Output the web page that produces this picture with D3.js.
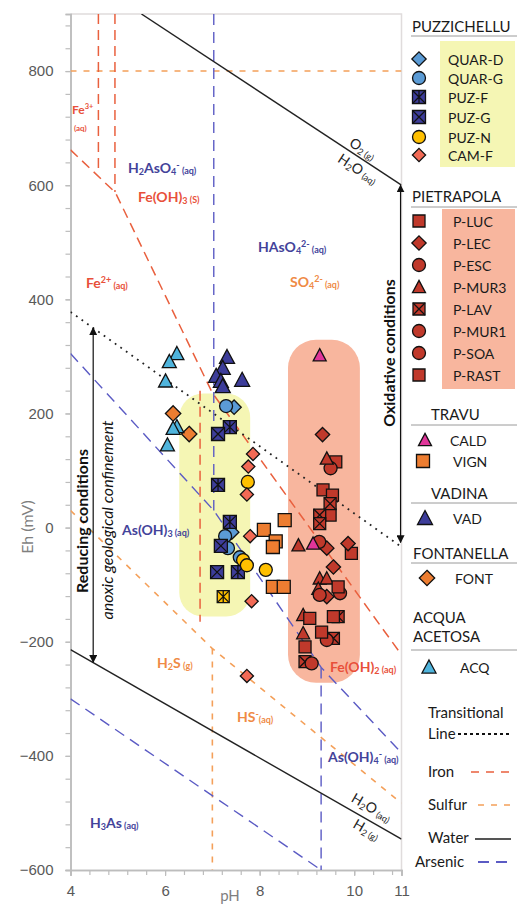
<!DOCTYPE html>
<html><head><meta charset="utf-8">
<script src="https://cdn.jsdelivr.net/npm/d3@7"></script>
<style>
body{margin:0;background:#fff;}
svg{display:block;font-family:Lato,"Open Sans",sans-serif;}
</style></head><body>
<svg id="chart" width="518" height="906"></svg>
<script>
// ================= DATA =================
const xTickLabels = [4, 6, 8, 10, 11];
const yTickLabels = [-600, -400, -200, 0, 200, 400, 600, 800];

// boundary lines [pH, Eh mV]
const waterUpper = [[5.5, 900], [11, 600]];
const waterLower = [[4, -214], [11, -546]];
const transitional = [[4, 378], [11, -34]];
const ironDiag = [[4, 662], [4.95, 587], [7.0, 236], [11, -223]];
const ironVert1 = [[4.59, 900], [4.59, 625]];
const ironVert2 = [[4.94, 900], [4.94, 588]];
const ironVert3 = [[6.74, 240], [6.74, -165]];
const sulfurHoriz = [[4, 800], [11, 800]];
const sulfurDiag = [[4, 30], [7.0, -212], [11, -483]];
const sulfurVert = [[7.0, -212], [7.0, -600]];
const arsenicDiag = [[4, 305], [7.03, 30], [9.3, -245], [11, -395]];
const arsenicVert1 = [[7.03, 900], [7.03, 30]];
const arsenicVert2 = [[9.3, -245], [9.3, -600]];
const arsenicLow = [[4, -300], [9.3, -600]];

// shaded groups [pH range], [Eh range]
const yellowBandPH = [6.30, 7.80], yellowBandEh = [-156, 235];
const pinkBandPH = [8.60, 10.12], pinkBandEh = [-272, 329];

// samples [pH, Eh]
const quarD = [[7.46, 211], [7.41, -8]];
const quarG = [[7.29, 213], [7.27, -15], [7.33, -36], [7.58, -52]];
const puzF = [[7.37, 176], [7.12, 75], [7.37, 10], [7.54, -78]];
const puzG = [[7.12, 164], [7.18, -32], [7.10, -78]];
const puzN = [[7.75, 80], [7.65, -57], [7.73, -66], [8.13, -74]];
const puzNX = [[7.23, -121]];
const camF = [[7.86, 129], [7.76, 107], [7.73, 58], [7.80, -15], [7.83, -129], [7.73, -260]];
const pLuc = [[9.61, 115], [9.34, 66], [9.54, 57], [9.49, 22], [9.94, -45]];
const pLec = [[9.33, 163], [9.42, -36], [9.87, -28], [9.56, -69], [9.42, -121]];
const pEsc = [[9.50, 104], [9.26, -25]];
const pMur3 = [[9.42, 121], [8.82, -31], [9.27, -89], [9.42, -89], [9.24, -107], [8.92, -153], [8.92, -185]];
const pLav = [[9.49, 42], [9.27, 22], [9.27, 7], [9.66, -156], [9.56, -194], [8.96, -235]];
const pMur1 = [[9.70, -115], [9.27, -118]];
const pSoa = [[9.42, -197], [9.10, -238]];
const pRast = [[9.66, -104], [9.06, -159], [9.56, -156], [9.31, -183], [8.96, -209]];
const cald = [[9.27, 302], [9.13, -28]];
const vign = [[8.09, -4], [8.53, 13], [8.34, -24], [8.28, -34], [8.28, -104], [8.51, -104]];
const vad = [[7.31, 299], [7.22, 280], [7.08, 266], [7.18, 257], [7.22, 248], [7.63, 259]];
const font = [[6.17, 200], [6.51, 164]];
const acq = [[6.25, 305], [6.09, 291], [6.01, 257], [6.25, 177], [6.17, 174], [6.05, 145]];

// ================= CHART =================
const C = {
  lblue: "#5b9bd5", dblue: "#3d3d9a", yellow: "#ffc000", salmon: "#f26a55",
  red: "#c0392b", magenta: "#e0359a", orange: "#ed7d31", cyan: "#4fb4dc",
  iron: "#e9603e", sulfur: "#f4a05a", arsenic: "#5b5bc4", water: "#222",
  asText: "#43439a", feText: "#e8503a", sText: "#ef8a45"
};

const series = [
  {name: "QUAR-D", shape: "diamond", color: C.lblue, s: 13, data: quarD},
  {name: "QUAR-G", shape: "circle", color: C.lblue, s: 13, data: quarG},
  {name: "PUZ-F", shape: "asterisk", color: C.dblue, s: 13, data: puzF},
  {name: "PUZ-G", shape: "xsquare", color: C.dblue, s: 13, data: puzG},
  {name: "PUZ-N", shape: "circle", color: C.yellow, s: 13, data: puzN},
  {name: "", shape: "asterisk", color: C.yellow, s: 12, data: puzNX},
  {name: "CAM-F", shape: "diamond", color: C.salmon, s: 12, data: camF},
  {name: "P-LUC", shape: "square", color: C.red, s: 12, data: pLuc},
  {name: "P-LEC", shape: "diamond", color: C.red, s: 13, data: pLec},
  {name: "P-ESC", shape: "circle", color: C.red, s: 13, data: pEsc},
  {name: "P-MUR3", shape: "triangle", color: C.red, s: 13, data: pMur3},
  {name: "P-LAV", shape: "xsquare", color: C.red, s: 12, data: pLav},
  {name: "P-MUR1", shape: "circle", color: C.red, s: 13, data: pMur1},
  {name: "P-SOA", shape: "circle", color: C.red, s: 13, data: pSoa},
  {name: "P-RAST", shape: "square", color: C.red, s: 12, data: pRast},
  {name: "CALD", shape: "triangle", color: C.magenta, s: 13, data: cald},
  {name: "VIGN", shape: "square", color: C.orange, s: 13, data: vign},
  {name: "VAD", shape: "triangle", color: C.dblue, s: 15, data: vad},
  {name: "FONT", shape: "diamond", color: C.orange, s: 14, data: font},
  {name: "ACQ", shape: "triangle", color: C.cyan, s: 14, data: acq}
];

const svg = d3.select("#chart");
const x = d3.scaleLinear().domain([4, 11]).range([70.5, 401.5]);
const y = d3.scaleLinear().domain([-600, 900]).range([870, 14]);
const line = d3.line().x(d => x(d[0])).y(d => y(d[1]));

svg.append("defs").append("clipPath").attr("id", "plotclip")
  .append("rect").attr("x", x(4)).attr("y", y(900)).attr("width", x(11) - x(4)).attr("height", y(-600) - y(900));
svg.select("defs").append("marker").attr("id", "ah").attr("viewBox", "0 0 10 10")
  .attr("refX", 9).attr("refY", 5).attr("markerWidth", 8).attr("markerHeight", 8)
  .attr("markerUnits", "userSpaceOnUse").attr("orient", "auto-start-reverse")
  .append("path").attr("d", "M0,0 L10,5 L0,10 Z").attr("fill", "#111");

// frame
svg.append("path").attr("d", `M${x(4)},${y(900)} H${x(11)} V${y(-600)}`)
  .attr("fill", "none").attr("stroke", "#e0dcdc").attr("stroke-width", 1.5);

// bands
function band(ph, eh, fill, r) {
  svg.append("rect").attr("x", x(ph[0])).attr("y", y(eh[1]))
    .attr("width", x(ph[1]) - x(ph[0])).attr("height", y(eh[0]) - y(eh[1]))
    .attr("rx", r).attr("ry", r).attr("fill", fill);
}
band(yellowBandPH, yellowBandEh, "#f5f6b4", 24);
band(pinkBandPH, pinkBandEh, "#f8b69e", 28);

// axes
const yMinor = d3.range(-600, 881, 40);
const xMinor = d3.range(0, 18).map(i => 4 + i * 0.4).concat([11]);
function styleAxis(g) {
  g.select(".domain").attr("stroke", "#bdbdbd").attr("stroke-width", 1.6);
  g.selectAll(".tick line").attr("stroke", "#bdbdbd").attr("stroke-width", 1.2);
  g.selectAll(".tick text").attr("fill", "#595959").attr("font-size", 15);
}
svg.append("g").attr("transform", `translate(${x(4)},0)`)
  .call(d3.axisLeft(y).tickValues(yMinor).tickSize(5).tickFormat("")).call(styleAxis);
svg.append("g").attr("transform", `translate(${x(4)},0)`)
  .call(d3.axisLeft(y).tickValues(yTickLabels).tickSize(5).tickPadding(12).tickFormat(d3.format("d"))).call(styleAxis);
svg.append("g").attr("transform", `translate(0,${y(-600)})`)
  .call(d3.axisBottom(x).tickValues(xMinor).tickSize(5).tickFormat("")).call(styleAxis);
svg.append("g").attr("transform", `translate(0,${y(-600)})`)
  .call(d3.axisBottom(x).tickValues(xTickLabels).tickSize(6).tickPadding(9).tickFormat(d3.format("d"))).call(styleAxis);

svg.append("text").attr("transform", "translate(26,527) rotate(-90)")
  .attr("text-anchor", "middle").attr("dominant-baseline", "central")
  .attr("fill", "#7f7f7f").attr("font-size", 16).text("Eh (mV)");
svg.append("text").attr("x", 230).attr("y", 901).attr("text-anchor", "middle")
  .attr("fill", "#7f7f7f").attr("font-size", 15).text("pH");

// lines
const lg = svg.append("g").attr("clip-path", "url(#plotclip)").attr("fill", "none");
function drawLine(pts, color, w, dash) {
  lg.append("path").attr("d", line(pts)).attr("stroke", color).attr("stroke-width", w)
    .attr("stroke-dasharray", dash);
}
[sulfurHoriz, sulfurDiag, sulfurVert].forEach(p => drawLine(p, C.sulfur, 1.6, "6,7"));
[ironDiag, ironVert1, ironVert2, ironVert3].forEach(p => drawLine(p, C.iron, 1.5, "10,6"));
[arsenicDiag, arsenicVert1, arsenicVert2, arsenicLow].forEach(p => drawLine(p, C.arsenic, 1.4, "11,7"));
[waterUpper, waterLower].forEach(p => drawLine(p, C.water, 1.4, null));
drawLine(transitional, "#222", 1.8, "1.8,5");

// region labels
function rich(px, py, parts, color, opts = {}) {
  const big = opts.big || 14, small = opts.small || 9;
  const t = svg.append("text").attr("fill", color).attr("font-weight", opts.weight || 700)
    .attr("font-family", "Lato,sans-serif");
  if (opts.rotate !== undefined) {
    t.attr("transform", `translate(${px},${py}) rotate(${opts.rotate})`).attr("text-anchor", "middle");
  } else t.attr("x", px).attr("y", py);
  let cur = 0;
  parts.forEach(([s, k]) => {
    const shift = k === "sub" ? 2 : k === "sup" ? -5 : k === "aq" ? 1 : 0;
    t.append("tspan").text(s).attr("font-size", k === "n" ? big : small).attr("dy", shift - cur);
    cur = shift;
  });
  return t;
}
rich(72, 114, [["Fe", "n"], ["3+", "sup"]], C.feText, {big: 12, small: 7.5});
rich(74, 130, [["(aq)", "aq"]], C.feText, {small: 8});
rich(128, 173, [["H", "n"], ["2", "sub"], ["AsO", "n"], ["4", "sub"], ["-", "sup"], [" (aq)", "aq"]], C.asText);
rich(138, 202, [["Fe(OH)", "n"], ["3", "sub"], [" (S)", "aq"]], C.feText);
rich(258, 252, [["HAsO", "n"], ["4", "sub"], ["2-", "sup"], [" (aq)", "aq"]], C.asText);
rich(290, 287, [["SO", "n"], ["4", "sub"], ["2-", "sup"], [" (aq)", "aq"]], C.sText);
rich(86, 288, [["Fe", "n"], ["2+", "sup"], [" (aq)", "aq"]], C.feText);
rich(122, 535, [["As(OH)", "n"], ["3", "sub"], [" (aq)", "aq"]], C.asText);
rich(157, 668, [["H", "n"], ["2", "sub"], ["S", "n"], [" (g)", "aq"]], C.sText);
rich(330, 672, [["Fe(OH)", "n"], ["2", "sub"], [" (aq)", "aq"]], C.feText);
rich(237, 722, [["HS", "n"], ["-", "sup"], ["(aq)", "aq"]], C.sText);
rich(328, 762, [["As(OH)", "n"], ["4", "sub"], ["-", "sup"], [" (aq)", "aq"]], C.asText);
rich(90, 828, [["H", "n"], ["3", "sub"], ["As", "n"], [" (aq)", "aq"]], C.asText);
// water labels
rich(360, 153, [["O", "n"], ["2", "sub"], [" (g)", "aq"]], "#222", {rotate: 33, weight: 400});
rich(355, 173, [["H", "n"], ["2", "sub"], ["O", "n"], [" (aq)", "aq"]], "#222", {rotate: 33, weight: 400});
rich(369, 812, [["H", "n"], ["2", "sub"], ["O", "n"], [" (aq)", "aq"]], "#222", {rotate: 30, weight: 400});
rich(364, 834, [["H", "n"], ["2", "sub"], [" (g)", "aq"]], "#222", {rotate: 30, weight: 400});

// arrows
const redPH = 4.48;
svg.append("line").attr("x1", x(redPH)).attr("x2", x(redPH))
  .attr("y1", y(350)).attr("y2", y(-236)).attr("stroke", "#111").attr("stroke-width", 1.2)
  .attr("marker-start", "url(#ah)").attr("marker-end", "url(#ah)");
svg.append("line").attr("x1", x(10.98)).attr("x2", x(10.98))
  .attr("y1", y(600)).attr("y2", y(-26)).attr("stroke", "#111").attr("stroke-width", 1.2)
  .attr("marker-start", "url(#ah)").attr("marker-end", "url(#ah)");
svg.append("text").attr("transform", "translate(81,521) rotate(-90)").attr("text-anchor", "middle")
  .attr("dominant-baseline", "central").attr("font-weight", 700).attr("font-size", 16)
  .attr("fill", "#111").text("Reducing conditions");
svg.append("text").attr("transform", "translate(106,520) rotate(-90)").attr("text-anchor", "middle")
  .attr("dominant-baseline", "central").attr("font-style", "italic").attr("font-size", 16)
  .attr("fill", "#111").text("anoxic geological confinement");
svg.append("text").attr("transform", "translate(388,353) rotate(-90)").attr("text-anchor", "middle")
  .attr("dominant-baseline", "central").attr("font-weight", 700).attr("font-size", 16)
  .attr("fill", "#111").text("Oxidative conditions");

// markers
function shapePath(shape, s) {
  const h = s / 2;
  if (shape === "diamond") { const r = s * 0.55; return `M0,${-r}L${r},0L0,${r}L${-r},0Z`; }
  if (shape === "triangle") { const th = s * 0.866; return `M0,${-th / 2 - 1}L${h},${th / 2}L${-h},${th / 2}Z`; }
  if (shape === "square" || shape === "xsquare" || shape === "asterisk") return `M${-h},${-h}H${h}V${h}H${-h}Z`;
  return null;
}
function drawMarker(g, shape, color, s, cx, cy) {
  const gg = g.append("g").attr("transform", `translate(${cx},${cy})`);
  if (shape === "circle") gg.append("circle").attr("r", s / 2).attr("fill", color).attr("stroke", "#111").attr("stroke-width", 1.3);
  else gg.append("path").attr("d", shapePath(shape, s)).attr("fill", color).attr("stroke", "#111").attr("stroke-width", 1.3);
  const h = s / 2;
  if (shape === "xsquare" || shape === "asterisk") {
    gg.append("path").attr("d", `M${-h},${-h}L${h},${h}M${h},${-h}L${-h},${h}` + (shape === "asterisk" ? `M0,${-h}V${h}` : ""))
      .attr("stroke", "#111").attr("stroke-width", 1.3);
  }
}
const mg = svg.append("g");
series.forEach(sr => sr.data.forEach(d => drawMarker(mg, sr.shape, sr.color, sr.s, x(d[0]), y(d[1]))));

// ================= LEGEND =================
const leg = svg.append("g").attr("font-family", "Lato,sans-serif").attr("fill", "#1a1a1a");
function title(txt, tx, ty, uy) {
  leg.append("text").attr("x", tx).attr("y", ty).attr("dominant-baseline", "central")
    .attr("font-size", 15).text(txt);
  if (uy) leg.append("line").attr("x1", 411).attr("x2", 517).attr("y1", uy).attr("y2", uy)
    .attr("stroke", "#9a9a9a").attr("stroke-width", 1);
}
const byName = n => series.find(s => s.name === n);
function item(name, mx, tx, ty) {
  const sr = byName(name);
  drawMarker(leg, sr.shape, sr.color, sr.s, mx, ty);
  leg.append("text").attr("x", tx).attr("y", ty).attr("dominant-baseline", "central")
    .attr("font-size", 14).text(name);
}
title("PUZZICHELLU", 412, 26, 36);
leg.append("rect").attr("x", 440).attr("y", 41).attr("width", 75).attr("height", 126).attr("fill", "#f5f6b4");
["QUAR-D", "QUAR-G", "PUZ-F", "PUZ-G", "PUZ-N", "CAM-F"].forEach((n, i) =>
  item(n, 419, 448, [59, 78, 97, 117, 137, 155][i]));
title("PIETRAPOLA", 412, 196, 207);
leg.append("rect").attr("x", 442).attr("y", 209).attr("width", 73).attr("height", 180).attr("fill", "#f8b69e");
["P-LUC", "P-LEC", "P-ESC", "P-MUR3", "P-LAV", "P-MUR1", "P-SOA", "P-RAST"].forEach((n, i) =>
  item(n, 419, 453, 221 + i * 22));
title("TRAVU", 431, 414, 425);
item("CALD", 425, 450, 440);
item("VIGN", 423, 453, 461);
title("VADINA", 431, 493, 503);
item("VAD", 425, 453, 518);
title("FONTANELLA", 413, 553, 563);
item("FONT", 427, 455, 578);
title("ACQUA", 413, 617, null);
title("ACETOSA", 413, 636, 650);
item("ACQ", 429, 460, 667);

function lineItem(lines, tx, ty, ly, x1, color, w, dash) {
  lines.forEach((s, i) => leg.append("text").attr("x", tx).attr("y", ty + i * 21)
    .attr("dominant-baseline", "central").attr("font-size", 15).text(s));
  leg.append("line").attr("x1", x1).attr("x2", 511).attr("y1", ly).attr("y2", ly)
    .attr("stroke", color).attr("stroke-width", w).attr("stroke-dasharray", dash);
}
lineItem(["Transitional", "Line"], 428, 712, 734, 458, "#111", 1.8, "3,3");
lineItem(["Iron"], 428, 771, 772, 471, C.iron, 1.6, "8,7");
lineItem(["Sulfur"], 428, 804, 805, 478, C.sulfur, 1.6, "6,7");
lineItem(["Water"], 428, 837, 839, 475, "#555", 1.8, null);
lineItem(["Arsenic"], 415, 861, 862, 478, C.arsenic, 1.8, "11,7");
</script>
</body></html>
